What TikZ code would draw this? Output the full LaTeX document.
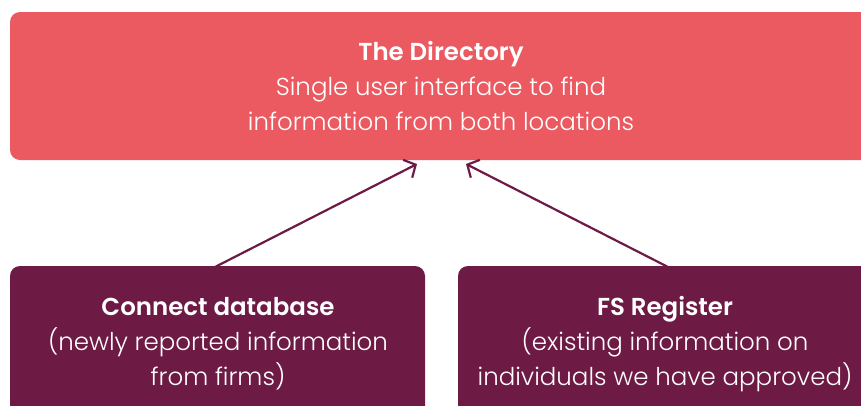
\documentclass[tikz,border=0pt]{standalone}
\usepackage{fontspec}
\setmainfont{Poppins}[UprightFont=* Light, BoldFont=* SemiBold]
\usetikzlibrary{arrows.meta}
\definecolor{coral}{HTML}{EA5A60}
\definecolor{plum}{HTML}{6D1A45}
\tikzset{
  conn/.style={draw=plum, line width=2.2pt, -{Straight Barb[length=9pt,width=20pt,line width=2.2pt]}},
  ttl/.style={text=white, anchor=base, inner sep=0pt, font=\fontsize{24.5}{35}\selectfont\bfseries},
  body/.style={text=white, anchor=base, inner sep=0pt, font=\fontsize{24.5}{35}\selectfont}
}
\begin{document}
\begin{tikzpicture}[x=1pt,y=-1pt]
\useasboundingbox (0,0) rectangle (861,405);
\clip (0,0) rectangle (861,405);
\fill[coral, rounded corners=10pt] (10,12) rectangle (872,160);
\fill[plum, rounded corners=10pt] (10,266) rectangle (425,420);
\fill[plum, rounded corners=10pt] (458,266) rectangle (872,420);
\node[ttl] (dt) at (441,60) {The Directory};
\node[body] (db1) at (441,95) {Single user interface to find};
\node[body] (db2) at (441,130) {information from both locations};
\node[ttl] (ct) at (218,315) {Connect database};
\node[body] (cb1) at (218,350) {(newly reported information};
\node[body] (cb2) at (218,385) {from firms)};
\node[ttl] (ft) at (665,315) {FS Register};
\node[body] (fb1) at (665,350) {(existing information on};
\node[body] (fb2) at (665,385) {individuals we have approved)};
\coordinate (a1s) at (215,267);
\coordinate (a1e) at (417,164);
\coordinate (a2s) at (668,267);
\coordinate (a2e) at (466,164);
\draw[conn] (a1s) -- (a1e);
\draw[conn] (a2s) -- (a2e);
\end{tikzpicture}
\end{document}
